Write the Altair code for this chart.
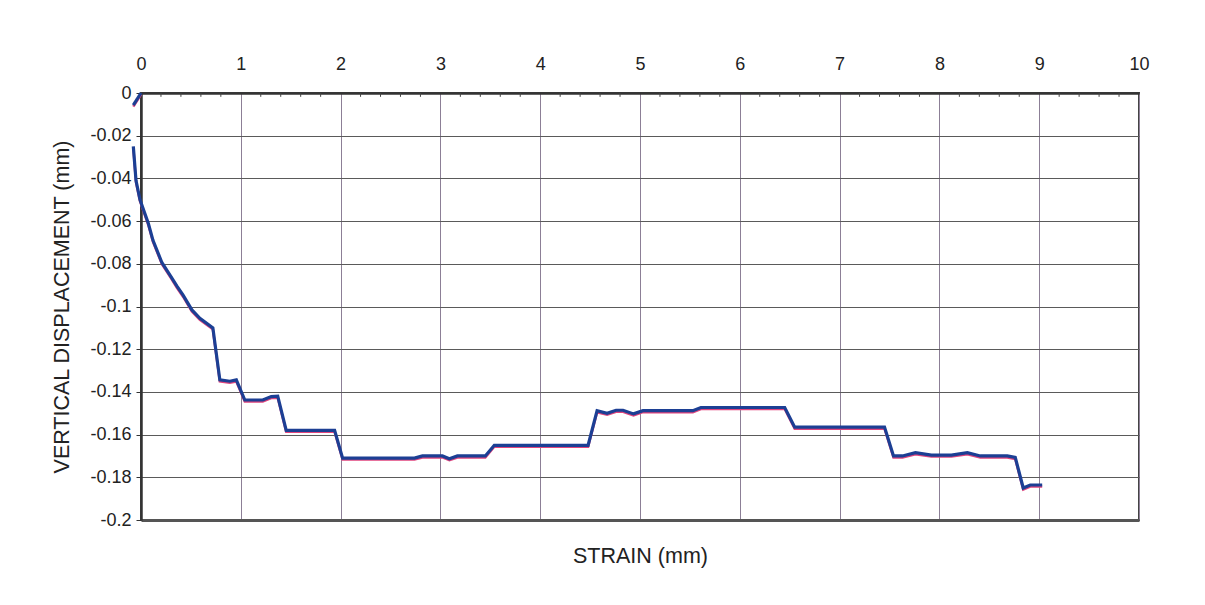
import altair as alt
import pandas as pd

# --- data ---
seg_a_x = [-0.077, 0.0]
seg_a_y = [-0.0057, 0.0]

seg_b_x = [-0.077, -0.05, -0.01, 0.073, 0.12, 0.21, 0.30, 0.36, 0.42, 0.51, 0.59, 0.72,
           0.79, 0.89, 0.955, 1.04, 1.22, 1.305, 1.37, 1.455, 1.94, 2.02, 2.74, 2.82,
           3.02, 3.09, 3.17, 3.45, 3.54, 4.48, 4.57, 4.67, 4.76, 4.83, 4.935, 5.03,
           5.53, 5.61, 6.45, 6.55, 7.45, 7.54, 7.63, 7.76, 7.92, 8.12, 8.28, 8.41,
           8.68, 8.76, 8.84, 8.91, 9.03]
seg_b_y = [-0.025, -0.041, -0.050, -0.061, -0.069, -0.0795, -0.086, -0.0905, -0.0946,
           -0.1016, -0.1055, -0.110, -0.1344, -0.135, -0.1344, -0.1438, -0.1438, -0.1422,
           -0.142, -0.158, -0.158, -0.171, -0.171, -0.170, -0.170, -0.1713, -0.170,
           -0.170, -0.165, -0.165, -0.1488, -0.150, -0.1486, -0.1486, -0.1503, -0.1488,
           -0.1488, -0.1473, -0.1473, -0.1565, -0.1565, -0.170, -0.170, -0.1685, -0.1696,
           -0.1696, -0.1685, -0.170, -0.170, -0.1707, -0.185, -0.1836, -0.1836]

x_ticks = [0, 1, 2, 3, 4, 5, 6, 7, 8, 9, 10]
y_ticks = [0, -0.02, -0.04, -0.06, -0.08, -0.1, -0.12, -0.14, -0.16, -0.18, -0.2]
minor_x = [0.2, 0.4, 0.6, 0.8, 1.2, 1.4, 1.6, 1.8, 2.2, 2.4, 2.6, 2.8, 3.2, 3.4, 3.6,
           3.8, 4.2, 4.4, 4.6, 4.8, 5.2, 5.4, 5.6, 5.8, 6.2, 6.4, 6.6, 6.8, 7.2, 7.4,
           7.6, 7.8, 8.2, 8.4, 8.6, 8.8, 9.2, 9.4, 9.6, 9.8]

rows = []
for i, (xv, yv) in enumerate(zip(seg_a_x, seg_a_y)):
    rows.append({"seg": "a", "i": i, "x": xv, "y": yv})
for i, (xv, yv) in enumerate(zip(seg_b_x, seg_b_y)):
    rows.append({"seg": "b", "i": i, "x": xv, "y": yv})
df = pd.DataFrame(rows)
minor_df = pd.DataFrame({"mx": minor_x})

FONT = "Liberation Sans"
x_scale = alt.Scale(domain=[0, 10], nice=False, zero=False)
y_scale = alt.Scale(domain=[-0.2, 0], nice=False, zero=False)

y_axis = alt.Axis(
    orient="left", values=y_ticks, labelExpr="toString(datum.value)",
    grid=True, gridColor="#5a5a5a", gridWidth=1,
    domainColor="#333333", domainWidth=2.5,
    ticks=True, tickSize=5, tickColor="#333333",
    labelFont=FONT, labelFontSize=18, labelColor="#222222", labelPadding=5,
    title="VERTICAL DISPLACEMENT (mm)", titleFont=FONT, titleFontSize=21.5,
    titleFontWeight="normal", titleColor="#222222", titlePadding=16,
)

minor = alt.Chart(minor_df).mark_rule(color="#444444", strokeWidth=1).encode(
    x=alt.X("mx:Q", scale=x_scale, axis=None),
    y=alt.datum(0),
    y2=alt.datum(-0.0018),
)

pink = alt.Chart(df).mark_line(color="#e0457d", strokeWidth=2.5, yOffset=1.5, clip=False).encode(
    x=alt.X("x:Q", scale=x_scale, axis=alt.Axis(
        orient="bottom", labels=False, ticks=False, grid=False,
        domainColor="#555555", domainWidth=3,
        title="STRAIN (mm)", titleFont=FONT, titleFontSize=21.5, titleFontWeight="normal",
        titleColor="#222222", titlePadding=25)),
    y=alt.Y("y:Q", scale=y_scale, axis=y_axis),
    detail="seg:N",
    order="i:Q",
)

blue = alt.Chart(df).mark_line(color="#1c3f94", strokeWidth=3.2, clip=False).encode(
    x=alt.X("x:Q", scale=x_scale, axis=alt.Axis(
        orient="top", values=x_ticks, title=None, grid=True,
        gridColor="#8c7f96", gridWidth=1, ticks=False, labelFlush=False,
        domainColor="#333333", domainWidth=2.5,
        labelFont=FONT, labelFontSize=18, labelColor="#222222", labelPadding=20)),
    y=alt.Y("y:Q", scale=y_scale, axis=y_axis),
    detail="seg:N",
    order="i:Q",
)

chart = alt.layer(minor, pink, blue).resolve_axis(x="independent").properties(
    width=998, height=427,
    autosize=alt.AutoSizeParams(type="none"),
    padding={"left": 133, "top": 85, "right": 58, "bottom": 77},
    background="#ffffff",
).configure_view(stroke="#444444", strokeWidth=2)

chart.save("out.html", embed_options={"renderer": "svg", "actions": False})
